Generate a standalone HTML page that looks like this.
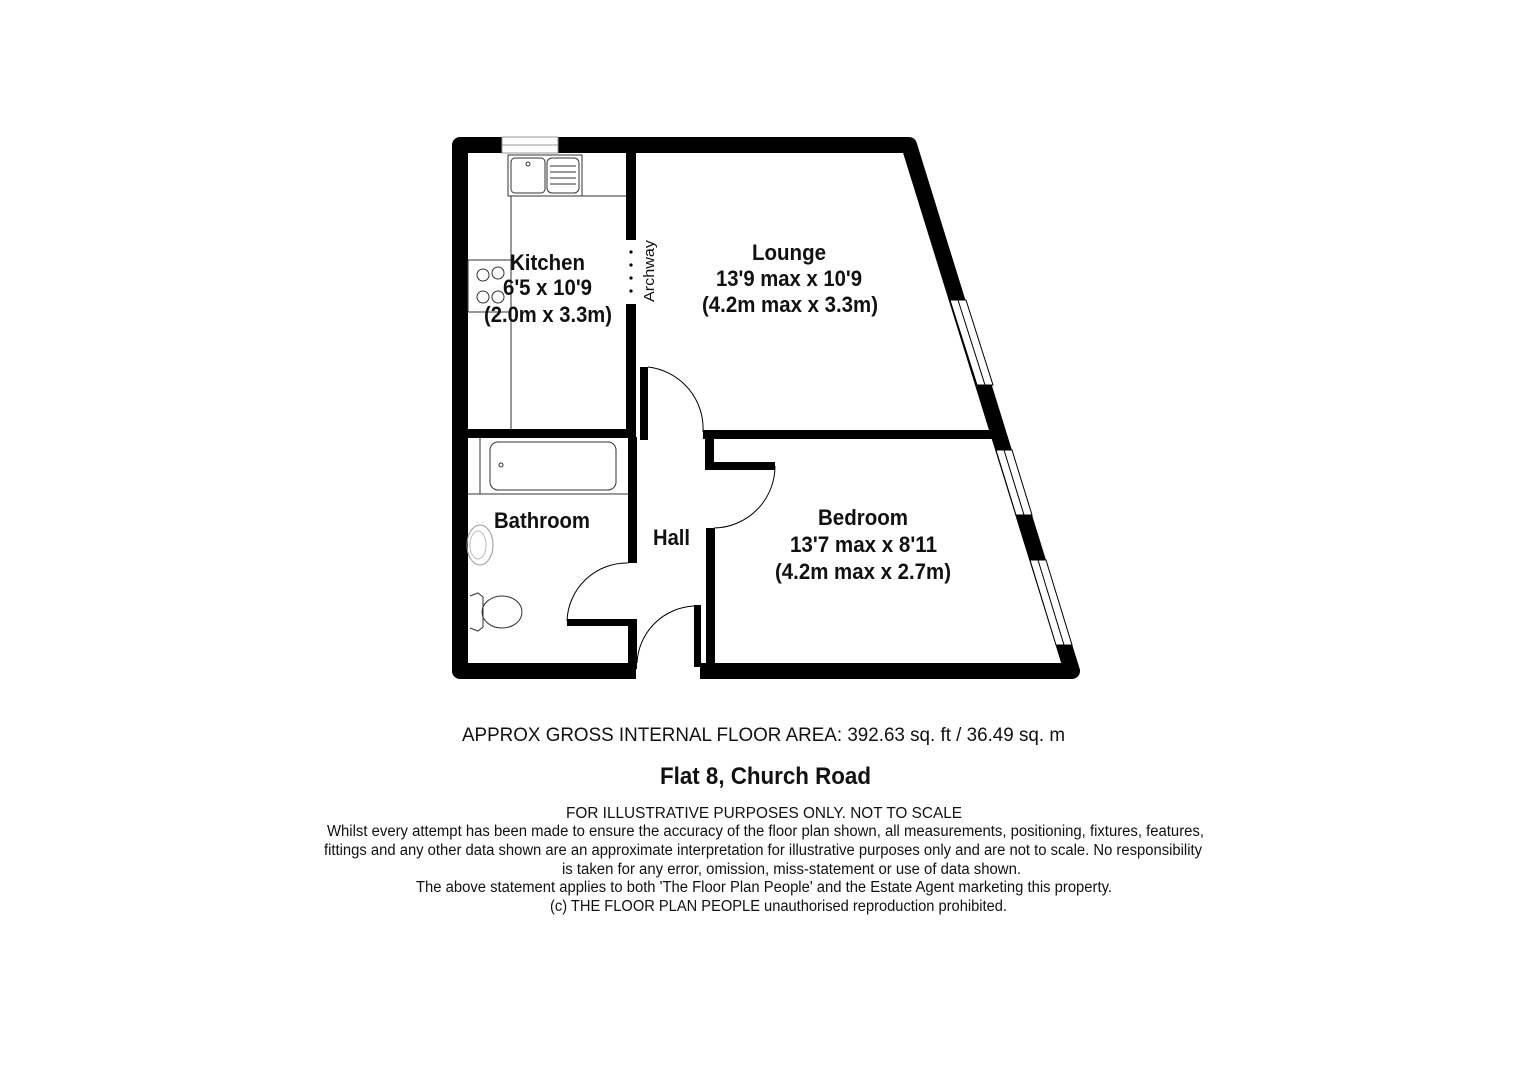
<!DOCTYPE html>
<html><head><meta charset="utf-8"><style>
html,body{margin:0;padding:0;background:#fff;}
svg{display:block;}
text{font-family:"Liberation Sans",Arial,sans-serif;fill:#111;}
.b{font-weight:bold;}
</style></head><body>
<svg width="1526" height="1080" viewBox="0 0 1526 1080" xmlns="http://www.w3.org/2000/svg">
<rect width="1526" height="1080" fill="#fff"/>
<g fill="none" stroke="#000" stroke-width="16" stroke-linejoin="round" stroke-linecap="butt">
<polyline points="636,671 460,671 460,145 909,145 1072,671 700,671"/>
</g>
<g>
<polygon points="950,300 966,300 993,385 977,385" fill="#fff" stroke="#000" stroke-width="1"/>
<polygon points="996,450 1012,450 1032,515 1016,515" fill="#fff" stroke="#000" stroke-width="1"/>
<polygon points="1030,560 1046,560 1072,645 1056,645" fill="#fff" stroke="#000" stroke-width="1"/>
<line x1="958" y1="300" x2="985" y2="385" stroke="#000" stroke-width="1"/>
<line x1="1004" y1="450" x2="1024" y2="515" stroke="#000" stroke-width="1"/>
<line x1="1038" y1="560" x2="1064" y2="645" stroke="#000" stroke-width="1"/>
</g>
<rect x="502" y="137" width="56" height="16" fill="#fff" stroke="#999" stroke-width="1"/>
<line x1="502" y1="145" x2="558" y2="145" stroke="#999" stroke-width="1"/>
<g fill="#000">
<rect x="626" y="153" width="10" height="87"/>
<rect x="626" y="304" width="10" height="134"/>
<rect x="468" y="429" width="168" height="9"/>
<rect x="640" y="367" width="8" height="73"/>
<rect x="703" y="430" width="290" height="9"/>
<rect x="705" y="437" width="9" height="30"/>
<rect x="705" y="462" width="70" height="8"/>
<rect x="706" y="528" width="9" height="140"/>
<rect x="628" y="437" width="9" height="126"/>
<rect x="567" y="619" width="70" height="7"/>
<rect x="628" y="619" width="9" height="50"/>
<rect x="694" y="605" width="7" height="62"/>
</g>
<g fill="#000"><circle cx="631" cy="252" r="1.6"/><circle cx="631" cy="265" r="1.6"/><circle cx="631" cy="278" r="1.6"/><circle cx="631" cy="291" r="1.6"/></g>
<g fill="none" stroke="#000" stroke-width="1">
<path d="M648,367 A62,62 0 0 1 703,432"/>
<path d="M775,466 A62,62 0 0 1 714,528"/>
<path d="M628,563 A60,60 0 0 0 567,621"/>
<path d="M694,606 A60,60 0 0 0 637,663"/>
</g>
<g fill="none" stroke="#333" stroke-width="1">
<rect x="508" y="155" width="74" height="41"/>
<rect x="511" y="158" width="34" height="35" rx="4"/>
<circle cx="528" cy="164" r="2"/>
<rect x="547" y="158" width="32" height="35" rx="5"/>
<line x1="550" y1="166" x2="576" y2="166"/><line x1="550" y1="172" x2="576" y2="172"/><line x1="550" y1="178" x2="576" y2="178"/><line x1="550" y1="184" x2="576" y2="184"/>
<line x1="511" y1="196" x2="511" y2="429"/>
<line x1="582" y1="196" x2="626" y2="196"/>
<rect x="468" y="260" width="43" height="52"/>
<circle cx="483" cy="275" r="6"/><circle cx="498" cy="273" r="6"/><circle cx="483" cy="297" r="6"/><circle cx="498" cy="297" r="6"/>
<line x1="480" y1="438" x2="480" y2="494"/>
<line x1="468" y1="494" x2="628" y2="494"/>
<rect x="490" y="442" width="126" height="48" rx="8"/>
<circle cx="501" cy="465" r="2"/>
<ellipse cx="480" cy="545" rx="13" ry="20" stroke="#999"/>
<ellipse cx="478" cy="545" rx="8" ry="14" stroke="#bbb"/>
<path d="M470,596 L478,593 L483,597 L483,627 L478,631 L470,628"/>
<ellipse cx="502" cy="612" rx="20" ry="16"/>
</g>
<g class="b" font-size="22">
<text x="510" y="270" textLength="75" lengthAdjust="spacingAndGlyphs">Kitchen</text>
<text x="503" y="295" textLength="89" lengthAdjust="spacingAndGlyphs">6'5 x 10'9</text>
<text x="484" y="322" textLength="128" lengthAdjust="spacingAndGlyphs">(2.0m x 3.3m)</text>
<text x="752" y="260" textLength="74" lengthAdjust="spacingAndGlyphs">Lounge</text>
<text x="716" y="286" textLength="146" lengthAdjust="spacingAndGlyphs">13'9 max x 10'9</text>
<text x="702" y="312" textLength="176" lengthAdjust="spacingAndGlyphs">(4.2m max x 3.3m)</text>
<text x="494" y="528" textLength="96" lengthAdjust="spacingAndGlyphs">Bathroom</text>
<text x="653" y="545" textLength="37" lengthAdjust="spacingAndGlyphs">Hall</text>
<text x="818" y="525" textLength="90" lengthAdjust="spacingAndGlyphs">Bedroom</text>
<text x="790" y="552" textLength="147" lengthAdjust="spacingAndGlyphs">13'7 max x 8'11</text>
<text x="775" y="579" textLength="176" lengthAdjust="spacingAndGlyphs">(4.2m max x 2.7m)</text>
</g>
<text font-size="15" transform="translate(654,302) rotate(-90)" textLength="62" lengthAdjust="spacingAndGlyphs">Archway</text>
<text x="462" y="741" font-size="19" textLength="603" lengthAdjust="spacingAndGlyphs">APPROX GROSS INTERNAL FLOOR AREA:   392.63 sq. ft / 36.49 sq. m</text>
<text x="660" y="784" font-size="24" class="b" textLength="211" lengthAdjust="spacingAndGlyphs">Flat 8, Church Road</text>
<g font-size="15.5">
<text x="566" y="818" textLength="396" lengthAdjust="spacingAndGlyphs">FOR ILLUSTRATIVE PURPOSES ONLY.  NOT TO SCALE</text>
<text x="327" y="836" textLength="877" lengthAdjust="spacingAndGlyphs">Whilst every attempt has been made to ensure the accuracy of the floor plan shown, all measurements, positioning, fixtures, features,</text>
<text x="324" y="855" textLength="878" lengthAdjust="spacingAndGlyphs">fittings and any other data shown are an approximate interpretation for illustrative purposes only and are not to scale.  No responsibility</text>
<text x="562" y="874" textLength="459" lengthAdjust="spacingAndGlyphs">is taken for any error, omission, miss-statement or use of data shown.</text>
<text x="416" y="892" textLength="696" lengthAdjust="spacingAndGlyphs">The above statement applies to both 'The Floor Plan People' and the Estate Agent marketing this property.</text>
<text x="550" y="911" textLength="457" lengthAdjust="spacingAndGlyphs">(c) THE FLOOR PLAN PEOPLE unauthorised reproduction prohibited.</text>
</g>
</svg>
</body></html>
